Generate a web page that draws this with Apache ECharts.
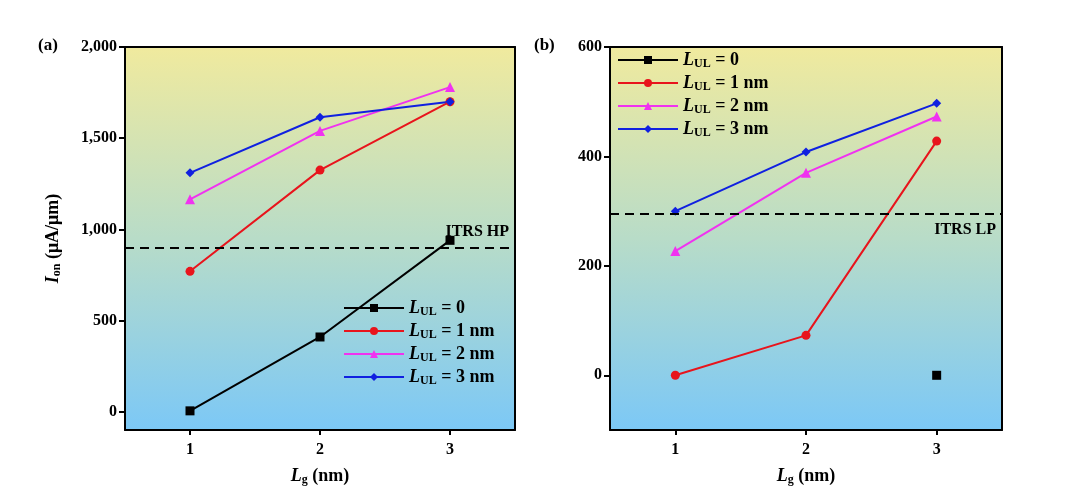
<!DOCTYPE html>
<html><head><meta charset="utf-8">
<script src="https://cdn.jsdelivr.net/npm/echarts@6/dist/echarts.min.js"></script>
<style>body{margin:0}#c{width:1075px;height:493px}</style></head>
<body><div id="c"></div>
<script>
const lgCats = [1, 2, 3]
const aL0 = [5, 410, 940]
const aL1 = [770, 1325, 1700]
const aL2 = [1165, 1540, 1780]
const aL3 = [1310, 1615, 1700]
const aRef = 900
const aTicks = [0, 500, 1000, 1500, 2000]
const bL0 = [null, null, 0]
const bL1 = [0, 73, 428]
const bL2 = [227, 370, 473]
const bL3 = [300, 408, 497]
const bRef = 295
const bTicks = [0, 200, 400, 600]
const names = ['L0', 'L1', 'L2', 'L3']
const labels = { L0: '= 0', L1: '= 1 nm', L2: '= 2 nm', L3: '= 3 nm' }
const colors = ['#000000', '#e8141c', '#f032f0', '#1020e0']
const symbols = ['rect', 'circle', 'triangle', 'diamond']

const font = 'Liberation Serif'
const rich = {
  i: { fontFamily: font, fontStyle: 'italic', fontWeight: 'bold', fontSize: 18, color: '#000' },
  s: { fontFamily: font, fontWeight: 'bold', fontSize: 12, color: '#000', verticalAlign: 'bottom', padding: [8, 0, 0, 0] },
  t: { fontFamily: font, fontWeight: 'bold', fontSize: 18, color: '#000' }
}
const bg = { type: 'linear', x: 0, y: 0, x2: 0, y2: 1, colorStops: [{ offset: 0, color: '#f0ea9e' }, { offset: 0.5, color: '#b8dcc8' }, { offset: 1, color: '#7cc8f6' }] }
const grids = [
  { left: 125, top: 47, width: 390, height: 383, show: true, backgroundColor: bg, borderWidth: 0 },
  { left: 610, top: 47, width: 392, height: 383, show: true, backgroundColor: bg, borderWidth: 0 }
]
const axLine = { show: true, onZero: false, lineStyle: { color: '#000', width: 2 } }
const axLabel = { fontFamily: font, fontWeight: 'bold', fontSize: 16, color: '#000' }
function xAx(g) {
  return [
    { type: 'value', gridIndex: g, min: 0.5, max: 3.5, axisLine: axLine,
      axisTick: { show: true, customValues: lgCats, lineStyle: { width: 2 } }, splitLine: { show: false },
      axisLabel: { ...axLabel, margin: 12, customValues: lgCats },
      name: '{i|L}{s|g}{t| (nm)}', nameLocation: 'middle', nameGap: 36, nameTextStyle: { rich } },
    { type: 'value', gridIndex: g, position: 'top', min: 0.5, max: 3.5, axisLine: axLine, axisTick: { show: false }, axisLabel: { show: false }, splitLine: { show: false } }
  ]
}
function yAx(g, max, ticks, name) {
  return [
    { type: 'value', gridIndex: g, min: -100, max, axisLine: axLine,
      axisTick: { show: true, customValues: ticks, length: 6, lineStyle: { width: 2 } }, splitLine: { show: false },
      axisLabel: { ...axLabel, customValues: ticks },
      name, nameLocation: 'middle', nameGap: 62, nameRotate: 90, nameTextStyle: { rich } },
    { type: 'value', gridIndex: g, position: 'right', min: -100, max, axisLine: axLine, axisTick: { show: false }, axisLabel: { show: false }, splitLine: { show: false } }
  ]
}
function mkSeries(g, datas, ref, refLabel, labelPos) {
  const out = datas.map((d, i) => ({
    type: 'line', name: names[i], xAxisIndex: g * 2, yAxisIndex: g * 2,
    data: lgCats.map((x, k) => [x, d[k]]), connectNulls: false,
    symbol: symbols[i], symbolSize: i === 2 ? 10 : 9, showAllSymbol: true,
    lineStyle: { color: colors[i], width: 2 }, itemStyle: { color: colors[i] }
  }))
  out[0].markLine = {
    silent: true, symbol: 'none',
    lineStyle: { type: [9, 6], color: '#000', width: 2 },
    label: { show: true, position: labelPos, distance: [6, 8], formatter: refLabel, fontFamily: font, fontWeight: 'bold', fontSize: 16, color: '#000' },
    data: [{ yAxis: ref }]
  }
  return out
}
const legendFmt = n => '{i|L}{s|UL}{t| ' + labels[n] + '}'
const chart = echarts.init(document.getElementById('c'))
chart.setOption({
  animation: false,
  grid: grids,
  xAxis: [...xAx(0), ...xAx(1)],
  yAxis: [...yAx(0, 2000, aTicks, '{i|I}{s|on}{t| (μA/μm)}'), ...yAx(1, 600, bTicks, '')],
  legend: [
    { data: names, left: 338, top: 294, orient: 'vertical', itemGap: 4, itemWidth: 60, itemHeight: 10, formatter: legendFmt, textStyle: { rich } },
    { data: names, left: 612, top: 46, orient: 'vertical', itemGap: 4, itemWidth: 60, itemHeight: 10, formatter: legendFmt, textStyle: { rich } }
  ],
  graphic: [
    { type: 'text', left: 38, top: 37, style: { text: '(a)', font: 'bold 17px "Liberation Serif"', fill: '#000' } },
    { type: 'text', left: 534, top: 37, style: { text: '(b)', font: 'bold 17px "Liberation Serif"', fill: '#000' } }
  ],
  series: [
    ...mkSeries(0, [aL0, aL1, aL2, aL3], aRef, 'ITRS HP', 'insideEndTop'),
    ...mkSeries(1, [bL0, bL1, bL2, bL3], bRef, 'ITRS LP', 'insideEndBottom')
  ]
})
</script></body></html>
